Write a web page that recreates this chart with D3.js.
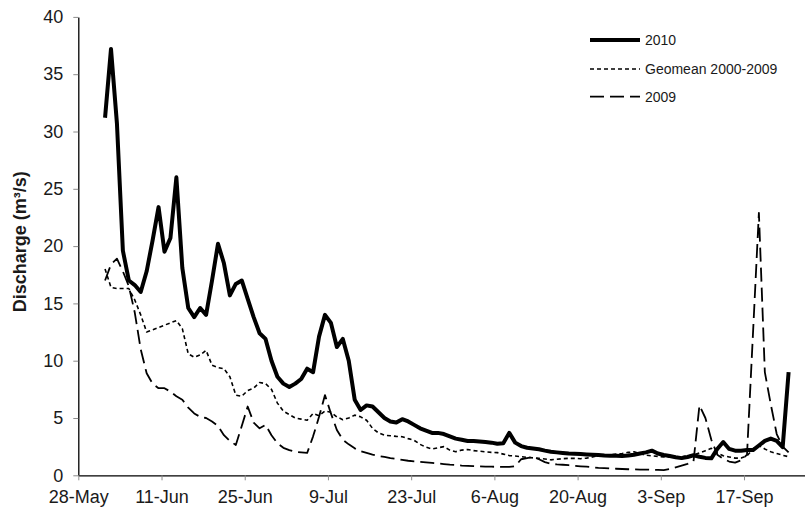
<!DOCTYPE html>
<html>
<head>
<meta charset="utf-8">
<script src="https://cdn.jsdelivr.net/npm/d3@7"></script>
<style>
  html, body { margin: 0; padding: 0; background: #fff; }
  svg { display: block; font-family: "Liberation Sans", Arial, sans-serif; }
</style>
</head>
<body>
<svg id="chart" width="805" height="510"></svg>
<script>
// Daily discharge, 1 Jun – 24 Sep
const firstDay = "2010-06-01";
const seriesNames = ["2010", "Geomean 2000-2009", "2009"];

const q2010 = [
  31.2, 37.2, 30.7, 19.6, 17.0, 16.6, 16.0, 17.8, 20.5, 23.4,
  19.5, 20.7, 26.0, 18.1, 14.6, 13.8, 14.6, 14.0, 17.0, 20.2,
  18.5, 15.7, 16.7, 17.0, 15.4, 13.8, 12.4, 11.9, 10.0, 8.6,
  8.0, 7.7, 8.0, 8.4, 9.3, 9.0, 12.1, 14.0, 13.3, 11.2,
  11.9, 10.0, 6.6, 5.7, 6.1, 6.0, 5.5, 5.0, 4.7, 4.6,
  4.9, 4.7, 4.4, 4.1, 3.9, 3.7, 3.7, 3.6, 3.4, 3.2,
  3.1, 3.0, 3.0, 2.95, 2.9, 2.85, 2.75, 2.8, 3.7, 2.85,
  2.55, 2.4, 2.33, 2.27, 2.15, 2.05, 2.0, 1.95, 1.9, 1.88,
  1.85, 1.82, 1.8, 1.78, 1.72, 1.7, 1.7, 1.68, 1.72, 1.8,
  1.9, 2.0, 2.15, 1.9, 1.77, 1.68, 1.58, 1.5, 1.6, 1.75,
  1.62, 1.52, 1.48, 2.3, 2.9, 2.3, 2.15, 2.15, 2.2, 2.2,
  2.6, 3.0, 3.2, 3.0, 2.45, 9.0
];

const qGeomean = [
  18.0, 16.4, 16.3, 16.3, 16.3, 15.3, 14.0, 12.5, 12.7, 12.9,
  13.1, 13.3, 13.5, 12.8, 10.6, 10.3, 10.5, 10.9, 9.6, 9.4,
  9.3, 8.6, 7.0, 6.9, 7.4, 7.6, 8.1, 8.0, 7.5, 6.3,
  5.6, 5.3, 5.0, 4.9, 4.8, 5.4, 5.2, 5.6, 5.5, 5.1,
  4.85, 5.0, 5.25, 5.1, 4.8, 4.1, 3.7, 3.5, 3.45, 3.4,
  3.37, 3.2, 3.05, 2.7, 2.45, 2.3, 2.4, 2.5, 2.2, 2.06,
  2.2, 2.25, 2.15, 2.1, 2.05, 2.0, 1.98, 1.85, 1.72, 1.68,
  1.62, 1.57, 1.52, 1.48, 1.42, 1.35, 1.4, 1.45, 1.48, 1.48,
  1.45, 1.5, 1.6, 1.72, 1.75, 1.8, 1.85, 1.9, 2.0, 2.05,
  1.9, 1.75, 1.7, 1.65, 1.6, 1.6, 1.6, 1.62, 1.7, 1.77,
  1.95, 2.15, 2.35, 1.95, 1.7, 1.6, 1.5, 1.5, 1.7, 2.3,
  2.6, 2.3, 2.05, 1.9, 1.75, 1.62
];

const q2009 = [
  17.0, 18.4, 18.9, 17.8, 16.5, 14.2, 11.0, 8.9, 8.0, 7.6,
  7.6, 7.3, 6.9, 6.6, 5.9, 5.4, 5.1, 5.0, 4.7, 4.3,
  3.5, 3.0, 2.65, 4.3, 6.0, 4.6, 4.1, 4.4, 3.5, 2.8,
  2.4, 2.2, 2.05, 2.0, 1.95, 3.4, 5.1, 7.0, 5.4, 3.95,
  3.1, 2.7, 2.35, 2.1, 1.95, 1.8, 1.68, 1.6, 1.5, 1.43,
  1.35, 1.27, 1.22, 1.17, 1.13, 1.08, 1.03, 0.98, 0.93, 0.9,
  0.85, 0.82, 0.8, 0.78, 0.76, 0.75, 0.74, 0.73, 0.73, 0.8,
  1.4, 1.5, 1.6, 1.4, 1.15, 1.0, 0.95, 0.92, 0.88, 0.82,
  0.78, 0.75, 0.7, 0.65, 0.62, 0.6, 0.57, 0.55, 0.53, 0.52,
  0.5, 0.5, 0.48, 0.47, 0.46, 0.55, 0.7, 0.85, 1.0, 1.2,
  6.1, 5.0, 3.1, 1.8, 1.45, 1.2, 1.1, 1.3, 1.8, 12.3,
  22.9, 9.0, 6.2, 3.6, 2.5, 2.0
];

const xTickLabels = ["28-May", "11-Jun", "25-Jun", "9-Jul", "23-Jul", "6-Aug", "20-Aug", "3-Sep", "17-Sep"];
const yTickValues = [0, 5, 10, 15, 20, 25, 30, 35, 40];
const axisStart = "2010-05-28";
const axisEnd = "2010-10-01";

const svg = d3.select("#chart");
const plotLeft = 78.3, plotBottom = 475.3, plotTop = 16.9;
const dayWidth = 5.944;

const parseIso = d3.utcParse("%Y-%m-%d");
const parseTick = d3.utcParse("%d-%b-%Y");
const t0 = parseIso(axisStart), t1 = parseIso(axisEnd);
const nDays = d3.utcDay.count(t0, t1);

const x = d3.scaleUtc().domain([t0, t1]).range([plotLeft, plotLeft + nDays * dayWidth]);
const y = d3.scaleLinear().domain([0, 40]).range([plotBottom, plotTop]);

// each daily value is plotted at midday
const start = parseIso(firstDay);
const dayDates = q2010.map((_, i) => d3.utcHour.offset(d3.utcDay.offset(start, i), 12));

// axes
const textColor = "#1a1a1a";
const yAxis = svg.append("g")
  .attr("transform", `translate(${plotLeft},0)`)
  .call(d3.axisLeft(y).tickValues(yTickValues).tickSize(5).tickSizeOuter(0).tickPadding(10));
yAxis.select(".domain").attr("stroke", "#000").attr("stroke-width", 1.3);
yAxis.selectAll(".tick line").attr("stroke", "#8c8c8c");
yAxis.selectAll(".tick text").attr("font-size", 18).attr("fill", textColor)
  .attr("font-family", "Liberation Sans, Arial, sans-serif");

const xTickDates = xTickLabels.map(s => parseTick(s + "-2010"));
const xAxis = svg.append("g")
  .attr("transform", `translate(0,${plotBottom})`)
  .call(d3.axisBottom(x).tickValues(xTickDates).tickFormat((d, i) => xTickLabels[i])
    .tickSize(5).tickSizeOuter(0).tickPadding(10));
xAxis.select(".domain").attr("stroke", "#000").attr("stroke-width", 1.3);
xAxis.selectAll(".tick line").attr("stroke", "#8c8c8c");
xAxis.selectAll(".tick text").attr("font-size", 18).attr("fill", textColor)
  .attr("font-family", "Liberation Sans, Arial, sans-serif");

svg.append("text")
  .attr("transform", "translate(25.5,241.7) rotate(-90)")
  .attr("text-anchor", "middle")
  .attr("font-size", 18)
  .attr("font-weight", "bold")
  .attr("fill", textColor)
  .text("Discharge (m³/s)");

// series
const styles = [
  { values: q2010, width: 4, dash: null },
  { values: qGeomean, width: 1.6, dash: "4,3" },
  { values: q2009, width: 1.8, dash: "14,6" }
];

const line = d3.line()
  .x(d => x(d[0]))
  .y(d => y(d[1]));

// draw order: dashed lines under the heavy line
[2, 1, 0].forEach(k => {
  const s = styles[k];
  svg.append("path")
    .datum(s.values.map((v, i) => [dayDates[i], v]))
    .attr("fill", "none")
    .attr("stroke", "#000")
    .attr("stroke-width", s.width)
    .attr("stroke-linejoin", "round")
    .attr("stroke-dasharray", s.dash)
    .attr("d", line);
});

// legend
const legend = svg.append("g");
const legendY = [40, 69, 96.7];
seriesNames.forEach((name, k) => {
  const s = styles[k];
  legend.append("line")
    .attr("x1", 590).attr("x2", 640)
    .attr("y1", legendY[k]).attr("y2", legendY[k])
    .attr("stroke", "#000")
    .attr("stroke-width", s.width)
    .attr("stroke-dasharray", s.dash);
  legend.append("text")
    .attr("x", 645).attr("y", legendY[k]).attr("dy", "0.35em")
    .attr("font-size", 14).attr("fill", textColor)
    .text(name);
});
</script>
</body>
</html>
